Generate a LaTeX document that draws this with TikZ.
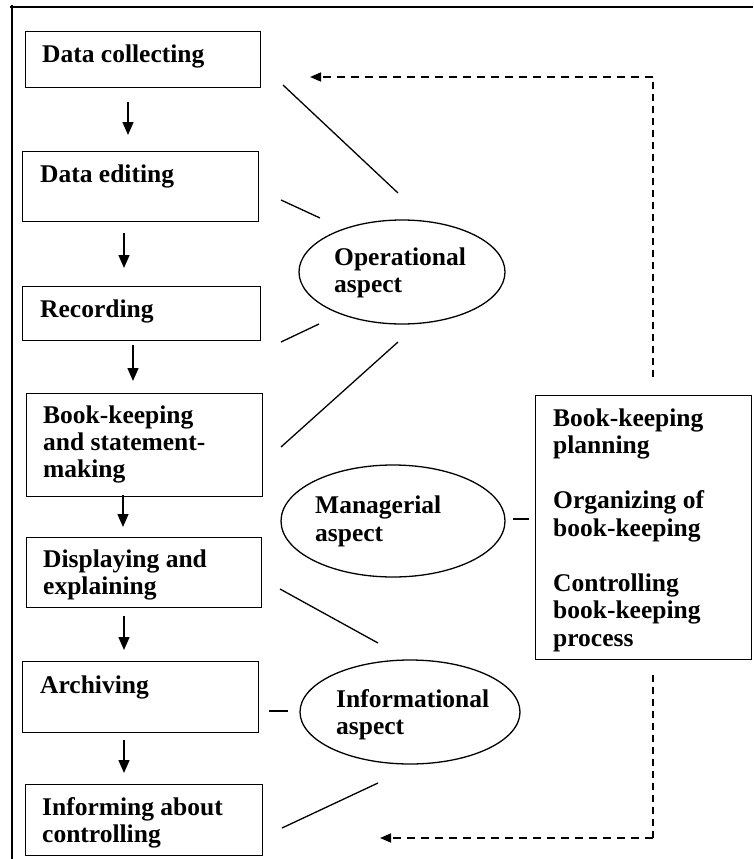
\documentclass[tikz,border=0pt]{standalone}
\usepackage{fontspec}
\setmainfont{Liberation Serif}
\usetikzlibrary{arrows.meta,shapes.geometric}
\begin{document}
\begin{tikzpicture}[x=1pt,y=-1pt,
  stepbox/.style={draw, line width=1.3pt, rectangle, anchor=north west, inner sep=0pt},
  aspectshape/.style={draw, line width=1.3pt, ellipse, inner sep=0pt},
  lbl/.style={anchor=base west, inner sep=0pt, font=\bfseries\fontsize{25.5}{27.5}\selectfont},
  link/.style={line width=1.3pt},
  flow/.style={line width=1.5pt, -{Triangle[width=11pt,length=13pt]}},
  feedback/.style={line width=1.6pt, dash pattern=on 8pt off 6pt, -{Triangle[width=9pt,length=11pt]}},
  feedbackv/.style={line width=1.2pt, dash pattern=on 7pt off 5pt}]
\useasboundingbox (0,0) rectangle (753,859);

% outer frame (top and left edges)
\draw[line width=1.3pt] (12,859) -- (12,5);
\draw[line width=1.3pt] (10,7) -- (753,7);

% process steps
\node[stepbox, minimum width=235pt, minimum height=56pt] (b1) at (25,31) {};
\node[stepbox, minimum width=236pt, minimum height=70pt] (b2) at (22,151) {};
\node[stepbox, minimum width=238pt, minimum height=54pt] (b3) at (22,286) {};
\node[stepbox, minimum width=236pt, minimum height=103pt] (b4) at (26,393) {};
\node[stepbox, minimum width=235pt, minimum height=70pt] (b5) at (26,537) {};
\node[stepbox, minimum width=236pt, minimum height=71pt] (b6) at (22,661) {};
\node[stepbox, minimum width=237pt, minimum height=71pt] (b7) at (25,784) {};

\node[lbl] (t1) at (42,63) {Data collecting};
\node[lbl] (t2) at (40,182) {Data editing};
\node[lbl] (t3) at (40,317) {Recording};
\node[lbl] (t4a) at (43,423) {Book-keeping};
\node[lbl] (t4b) at (43,450) {and statement-};
\node[lbl] (t4c) at (43,477) {making};
\node[lbl] (t5a) at (43,567) {Displaying and};
\node[lbl] (t5b) at (43,594) {explaining};
\node[lbl] (t6) at (40,693) {Archiving};
\node[lbl] (t7a) at (42,815) {Informing about};
\node[lbl] (t7b) at (42,842) {controlling};

% management functions
\node[stepbox, minimum width=216pt, minimum height=264pt] (mgmt) at (535,395) {};
\node[lbl] (m1) at (553,426) {Book-keeping};
\node[lbl] (m2) at (553,453.5) {planning};
\node[lbl] (m3) at (553,508.5) {Organizing of};
\node[lbl] (m4) at (553,536) {book-keeping};
\node[lbl] (m5) at (553,591) {Controlling};
\node[lbl] (m6) at (553,618.5) {book-keeping};
\node[lbl] (m7) at (553,646) {process};

% aspects
\node[aspectshape, minimum width=206pt, minimum height=104pt] (op) at (402,272) {};
\node[lbl] (op1) at (334,265) {Operational};
\node[lbl] (op2) at (334,292) {aspect};
\node[aspectshape, minimum width=224pt, minimum height=112pt] (man) at (393,521) {};
\node[lbl] (man1) at (315,513) {Managerial};
\node[lbl] (man2) at (315,541) {aspect};
\node[aspectshape, minimum width=220pt, minimum height=104pt] (inf) at (410,712) {};
\node[lbl] (inf1) at (336,707) {Informational};
\node[lbl] (inf2) at (336,734) {aspect};

% flow arrows between steps
\coordinate (a1s) at (128,102); \coordinate (a1e) at (128,135);
\coordinate (a2s) at (124,233); \coordinate (a2e) at (124,268);
\coordinate (a3s) at (133,345); \coordinate (a3e) at (133,381);
\coordinate (a4s) at (123,495); \coordinate (a4e) at (123,527);
\coordinate (a5s) at (124,616); \coordinate (a5e) at (124,650);
\coordinate (a6s) at (124,740); \coordinate (a6e) at (124,773);
\foreach \k in {1,...,6} \draw[flow] (a\k s) -- (a\k e);

% links from steps to aspects
\coordinate (l1s) at (283,85);  \coordinate (l1e) at (398,193);
\coordinate (l2s) at (281,200); \coordinate (l2e) at (320,218);
\coordinate (l3s) at (281,342); \coordinate (l3e) at (319,324);
\coordinate (l4s) at (281,447); \coordinate (l4e) at (398,342);
\coordinate (l5s) at (280,589); \coordinate (l5e) at (378,643);
\coordinate (l6s) at (269,711); \coordinate (l6e) at (288,711);
\coordinate (l7s) at (282,828); \coordinate (l7e) at (378,783);
\coordinate (l8s) at (513,519); \coordinate (l8e) at (529,519);
\foreach \k in {1,...,8} \draw[link] (l\k s) -- (l\k e);

% feedback loops
\coordinate (f1a) at (653,377); \coordinate (f1b) at (653,77); \coordinate (f1c) at (310,77);
\coordinate (f2a) at (653,675); \coordinate (f2b) at (653,838); \coordinate (f2c) at (380,838);
\draw[feedbackv] (f1a) -- (f1b);
\draw[feedback] (f1b) -- (f1c);
\draw[feedbackv] (f2a) -- (f2b);
\draw[feedback] (f2b) -- (f2c);
\end{tikzpicture}
\end{document}
